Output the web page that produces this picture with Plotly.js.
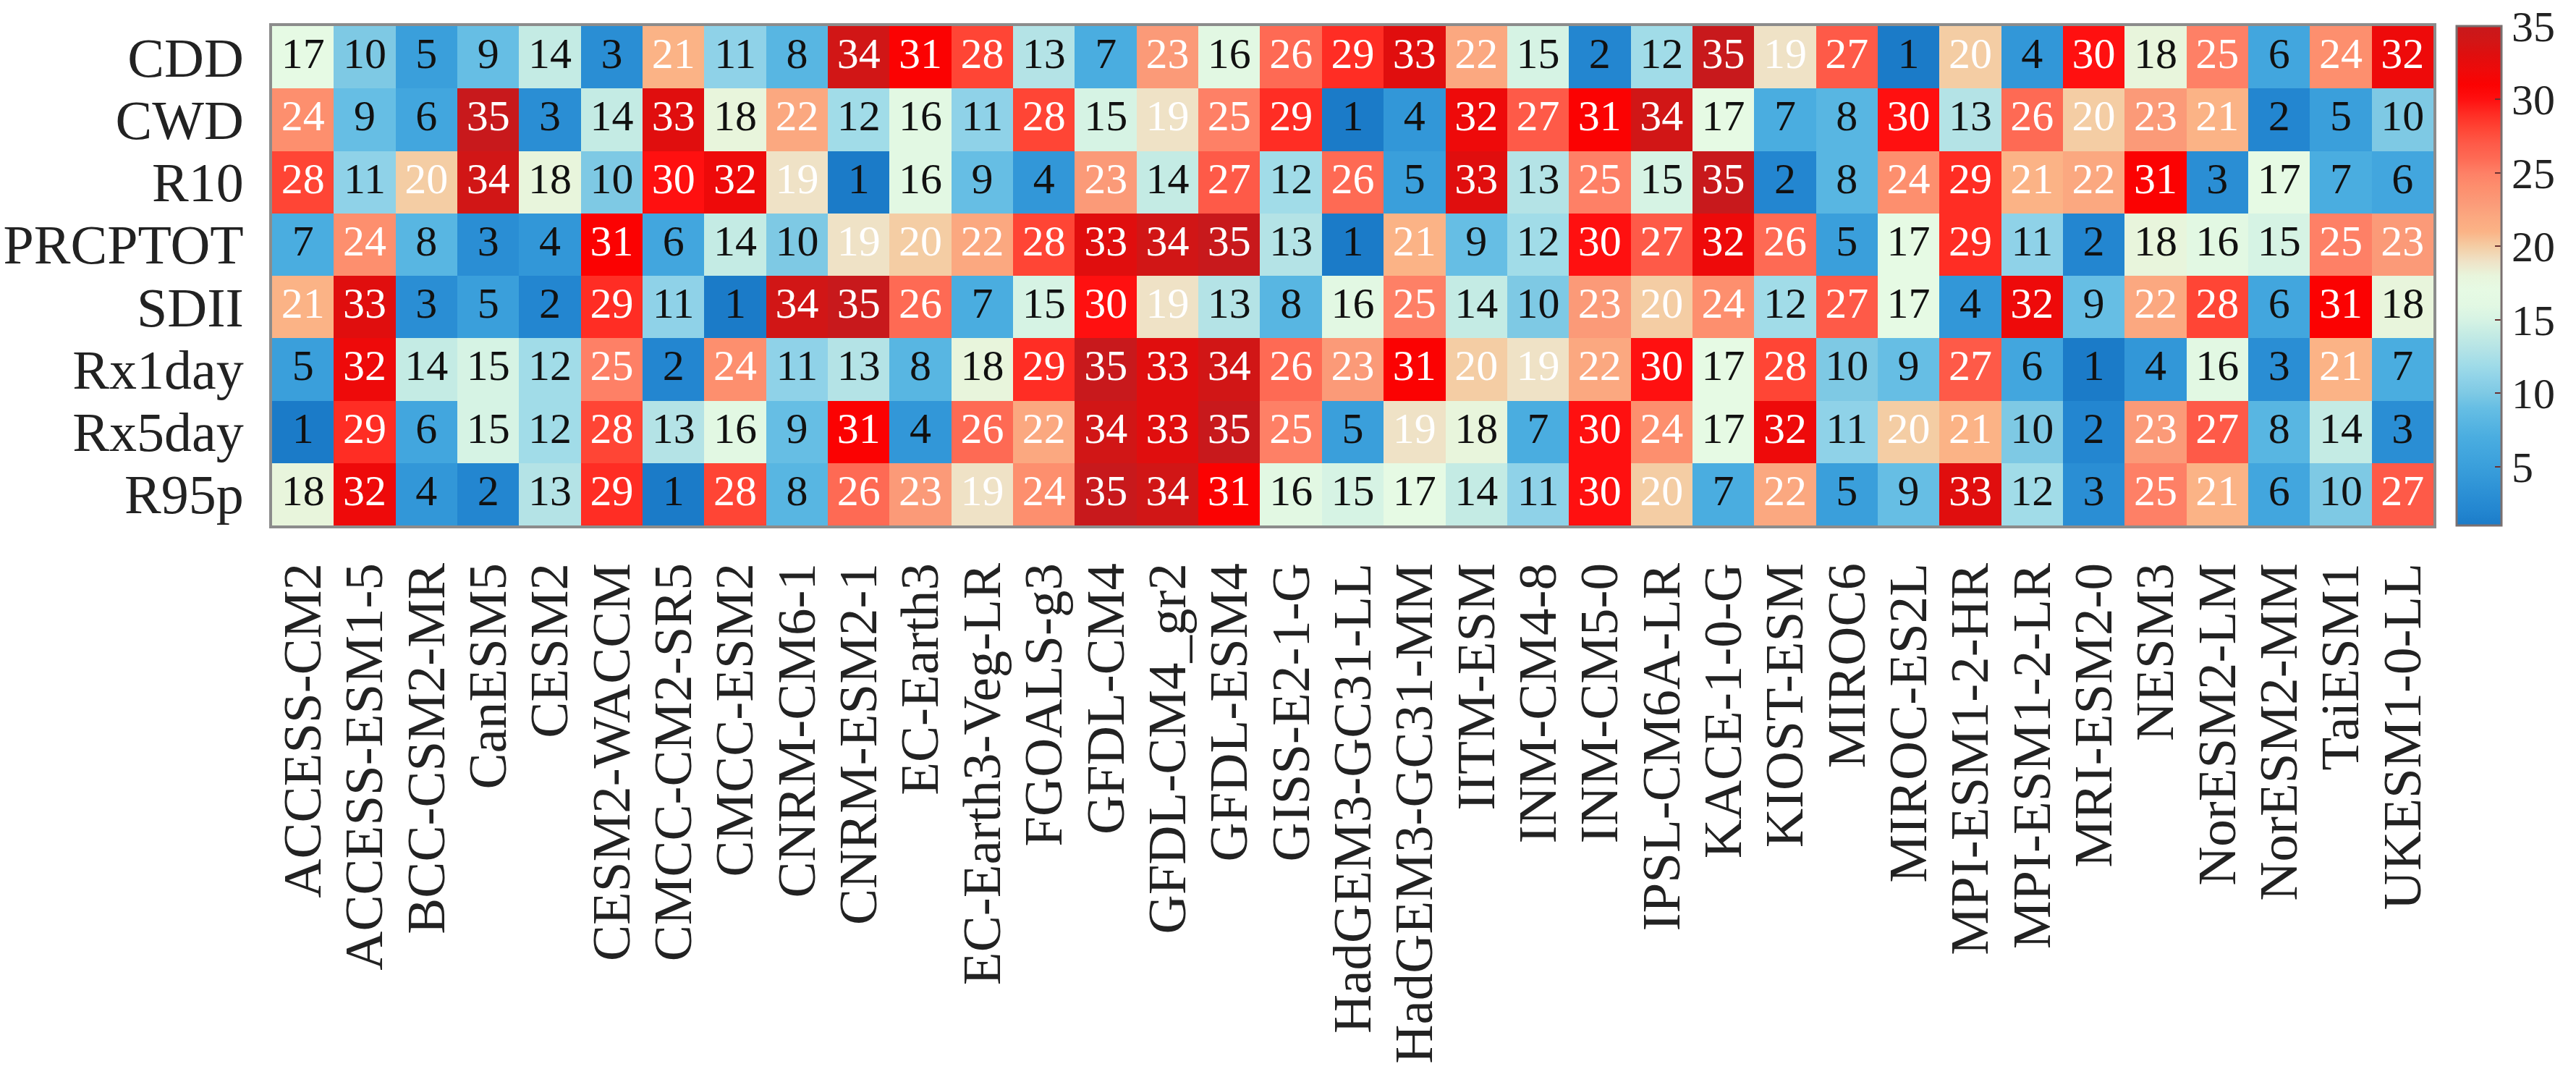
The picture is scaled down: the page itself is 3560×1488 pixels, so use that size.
<!DOCTYPE html>
<html>
<head>
<meta charset="utf-8">
<script src="https://cdn.plot.ly/plotly-3.0.1.min.js"></script>
<style>html,body{margin:0;padding:0;background:#fff;}#chart{width:3560px;height:1488px;}</style>
</head>
<body>
<div id="chart"></div>
<script>
const models = ["ACCESS-CM2","ACCESS-ESM1-5","BCC-CSM2-MR","CanESM5","CESM2","CESM2-WACCM","CMCC-CM2-SR5","CMCC-ESM2","CNRM-CM6-1","CNRM-ESM2-1","EC-Earth3","EC-Earth3-Veg-LR","FGOALS-g3","GFDL-CM4","GFDL-CM4_gr2","GFDL-ESM4","GISS-E2-1-G","HadGEM3-GC31-LL","HadGEM3-GC31-MM","IITM-ESM","INM-CM4-8","INM-CM5-0","IPSL-CM6A-LR","KACE-1-0-G","KIOST-ESM","MIROC6","MIROC-ES2L","MPI-ESM1-2-HR","MPI-ESM1-2-LR","MRI-ESM2-0","NESM3","NorESM2-LM","NorESM2-MM","TaiESM1","UKESM1-0-LL"];
const indices = ["CDD","CWD","R10","PRCPTOT","SDII","Rx1day","Rx5day","R95p"];

const CDD     = [17,10,5,9,14,3,21,11,8,34,31,28,13,7,23,16,26,29,33,22,15,2,12,35,19,27,1,20,4,30,18,25,6,24,32];
const CWD     = [24,9,6,35,3,14,33,18,22,12,16,11,28,15,19,25,29,1,4,32,27,31,34,17,7,8,30,13,26,20,23,21,2,5,10];
const R10     = [28,11,20,34,18,10,30,32,19,1,16,9,4,23,14,27,12,26,5,33,13,25,15,35,2,8,24,29,21,22,31,3,17,7,6];
const PRCPTOT = [7,24,8,3,4,31,6,14,10,19,20,22,28,33,34,35,13,1,21,9,12,30,27,32,26,5,17,29,11,2,18,16,15,25,23];
const SDII    = [21,33,3,5,2,29,11,1,34,35,26,7,15,30,19,13,8,16,25,14,10,23,20,24,12,27,17,4,32,9,22,28,6,31,18];
const Rx1day  = [5,32,14,15,12,25,2,24,11,13,8,18,29,35,33,34,26,23,31,20,19,22,30,17,28,10,9,27,6,1,4,16,3,21,7];
const Rx5day  = [1,29,6,15,12,28,13,16,9,31,4,26,22,34,33,35,25,5,19,18,7,30,24,17,32,11,20,21,10,2,23,27,8,14,3];
const R95p    = [18,32,4,2,13,29,1,28,8,26,23,19,24,35,34,31,16,15,17,14,11,30,20,7,22,5,9,33,12,3,25,21,6,10,27];

const colorbarTicks = [5,10,15,20,25,30,35];

const zRows = [CDD,CWD,R10,PRCPTOT,SDII,Rx1day,Rx5day,R95p];

// colour scale (value -> colour), normalised over 1..35
const scaleStops = [
  [1,"#1b7bc8"],[2,"#2386d0"],[3,"#2a8ed4"],[5,"#3a9fdb"],[6,"#42a6de"],[7,"#4aade0"],[9,"#66bee4"],[10,"#7ec9e4"],
  [11,"#8fd2e8"],[12,"#a1dce8"],[13,"#b4e3e6"],[14,"#c4ebe4"],[15,"#d6f3e4"],[16,"#e2f8e3"],
  [17,"#e6fae4"],[18,"#e8f5dc"],[19,"#efe2c6"],[20,"#f4cda4"],[21,"#fbb386"],[22,"#fba880"],
  [23,"#fb9a78"],[24,"#fd8f6e"],[25,"#fe8066"],[26,"#fe6a54"],[27,"#fe5a48"],[28,"#ff4535"],
  [29,"#ff2d24"],[30,"#ff1010"],[31,"#fb0202"],[32,"#ee0a0a"],[33,"#e00e0e"],[34,"#d11616"],[35,"#c8191c"]
];
const colorscale = scaleStops.map(s => [(s[0]-1)/34, s[1]]);

const tx = [], ty = [], tt = [], tc = [];
zRows.forEach((row, i) => row.forEach((v, j) => {
  tx.push(models[j]); ty.push(indices[i]); tt.push(String(v));
  tc.push(v >= 19 ? "#ffffff" : "#111111");
}));

const serif = "Liberation Serif";

const heat = {
  type: "heatmap",
  x: models, y: indices, z: zRows,
  zmin: 1, zmax: 35,
  colorscale: colorscale,
  xgap: 0, ygap: 0,
  hoverinfo: "skip",
  colorbar: {
    x: 1.0107, xanchor: "left", xref: "paper",
    y: 0.5, yanchor: "middle", len: 1, lenmode: "fraction",
    thickness: 62, thicknessmode: "pixels",
    outlinewidth: 3, outlinecolor: "#7a7070",
    tickvals: colorbarTicks, ticktext: colorbarTicks.map(String),
    ticks: "inside", ticklen: 10, tickwidth: 2, tickcolor: "#6a3030",
    tickfont: {family: serif, size: 60, color: "#222"},
    ticklabelstandoff: 12,
    ypad: 0, xpad: 0
  }
};

const labels = {
  type: "scatter", mode: "text",
  x: tx, y: ty, text: tt,
  textposition: "middle center",
  textfont: {family: serif, size: 60, color: tc},
  hoverinfo: "skip", showlegend: false, cliponaxis: false
};

const layout = {
  width: 3560, height: 1488,
  margin: {l: 376, r: 197, t: 36, b: 762, pad: 0},
  paper_bgcolor: "#fff", plot_bgcolor: "#fff",
  showlegend: false,
  xaxis: {
    type: "category", categoryarray: models, categoryorder: "array",
    range: [-0.5, models.length - 0.5], autorange: false,
    tickmode: "array", tickvals: models, ticktext: models,
    tickangle: -90, tickfont: {family: serif, size: 75, color: "#222"},
    ticks: "", showgrid: false, zeroline: false,
    showline: true, mirror: true, linecolor: "#8c8c8c", linewidth: 4,
    ticklabelstandoff: 18
  },
  yaxis: {
    type: "category", categoryarray: indices.slice().reverse(), categoryorder: "array",
    range: [-0.5, indices.length - 0.5], autorange: false,
    tickmode: "array", tickvals: indices, ticktext: indices,
    tickfont: {family: serif, size: 76, color: "#222"},
    ticks: "", showgrid: false, zeroline: false,
    showline: true, mirror: true, linecolor: "#8c8c8c", linewidth: 4,
    ticklabelstandoff: 20
  }
};

Plotly.newPlot("chart", [heat, labels], layout, {staticPlot: true, displayModeBar: false});
</script>
</body>
</html>
